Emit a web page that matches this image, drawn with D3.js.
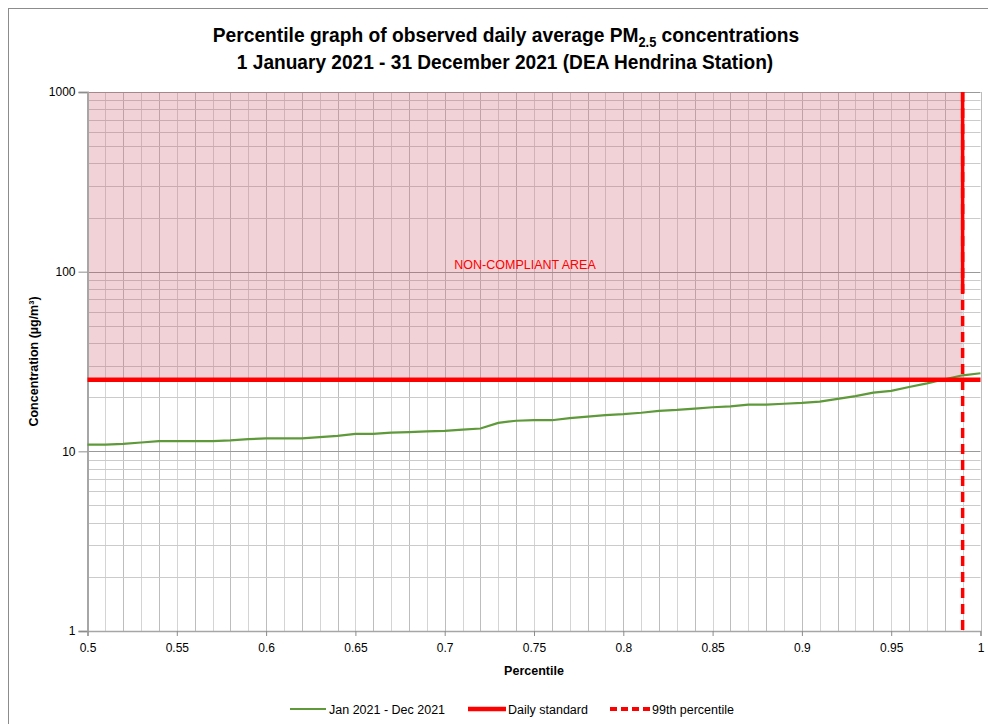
<!DOCTYPE html>
<html>
<head>
<meta charset="utf-8">
<script src="https://cdn.jsdelivr.net/npm/d3@7"></script>
<style>
  body { margin: 0; background: #fff; }
  svg { display: block; }
  .narrow { font-family: "Liberation Sans Narrow", "Arial Narrow", "Liberation Sans", sans-serif; }
</style>
</head>
<body>
<div id="chart"></div>
<script>
// Percentile grid (x) and observed concentrations (µg/m³)
const percentiles = [
  0.50, 0.51, 0.52, 0.53, 0.54, 0.55, 0.56, 0.57, 0.58, 0.59,
  0.60, 0.61, 0.62, 0.63, 0.64, 0.65, 0.66, 0.67, 0.68, 0.69,
  0.70, 0.71, 0.72, 0.73, 0.74, 0.75, 0.76, 0.77, 0.78, 0.79,
  0.80, 0.81, 0.82, 0.83, 0.84, 0.85, 0.86, 0.87, 0.88, 0.89,
  0.90, 0.91, 0.92, 0.93, 0.94, 0.95, 0.96, 0.97, 0.98, 0.99, 1.00
]
const concentrations = [
  10.9, 10.9, 11.0, 11.2, 11.4, 11.4, 11.4, 11.4, 11.5, 11.7,
  11.8, 11.8, 11.8, 12.0, 12.2, 12.5, 12.5, 12.7, 12.8, 12.9,
  13.0, 13.2, 13.4, 14.4, 14.8, 14.9, 14.9, 15.3, 15.6, 15.9,
  16.1, 16.4, 16.8, 17.0, 17.3, 17.6, 17.8, 18.2, 18.2, 18.4,
  18.6, 18.9, 19.6, 20.3, 21.2, 21.7, 22.8, 23.9, 25.2, 26.5, 27.2
]
const dailyStandard = 25
const percentile99 = 0.99
const dashTopValue = 76 // solid overlap of the 99th percentile marker ends here
const xTicks = [0.5, 0.55, 0.6, 0.65, 0.7, 0.75, 0.8, 0.85, 0.9, 0.95, 1]
const yTicks = [1, 10, 100, 1000]
const legendLabels = ['Jan 2021 - Dec 2021', 'Daily standard', '99th percentile']

const width = 988
const height = 724
const margin = { top: 92, right: 7.5, bottom: 93, left: 87.5 }

const svg = d3.select('#chart')
  .append('svg')
  .attr('width', width)
  .attr('height', height)
  .attr('class', 'narrow')

// Outer frame
svg.append('rect')
  .attr('x', 8.5).attr('y', 8.5)
  .attr('width', width).attr('height', height)
  .attr('fill', 'none')
  .attr('stroke', '#8c8c8c')

const x = d3.scaleLinear().domain([0.5, 1]).range([margin.left, width - margin.right])
const y = d3.scaleLog().domain([1, 1000]).range([height - margin.bottom, margin.top])

// Grid
const yMinor = []
for (const base of [1, 10, 100]) {
  for (let k = 2; k <= 9; k++) yMinor.push(base * k)
}
const xMinor = percentiles

const grid = svg.append('g')
grid.selectAll('line.vx')
  .data(xMinor)
  .join('line')
  .attr('x1', d => Math.round(x(d)) + 0.5)
  .attr('x2', d => Math.round(x(d)) + 0.5)
  .attr('y1', y(1000))
  .attr('y2', y(1))
  .attr('stroke', (d, i) => i % 2 ? '#d4d4d4' : '#bdbdbd')
grid.selectAll('line.hy')
  .data(yMinor)
  .join('line')
  .attr('x1', x(0.5))
  .attr('x2', x(1))
  .attr('y1', d => Math.round(y(d)) + 0.5)
  .attr('y2', d => Math.round(y(d)) + 0.5)
  .attr('stroke', '#cbcbcb')
grid.selectAll('line.hmaj')
  .data([10, 100, 1000])
  .join('line')
  .attr('x1', x(0.5))
  .attr('x2', x(1))
  .attr('y1', d => Math.round(y(d)) + 0.5)
  .attr('y2', d => Math.round(y(d)) + 0.5)
  .attr('stroke', '#9a9a9a')

// Non-compliant area
svg.append('rect')
  .attr('x', x(0.5))
  .attr('y', y(1000))
  .attr('width', x(percentile99) - x(0.5))
  .attr('height', y(dailyStandard) - y(1000) - 2)
  .attr('fill', 'rgb(200, 80, 95)')
  .attr('fill-opacity', 0.26)

svg.append('text')
  .attr('x', x(0.745))
  .attr('y', y(100) - 3)
  .attr('text-anchor', 'middle')
  .attr('fill', '#ff0000')
  .attr('font-size', 12.5)
  .text('NON-COMPLIANT AREA')

// Axes
const yAxis = svg.append('g')
  .attr('transform', `translate(${x(0.5)},0)`)
  .call(d3.axisLeft(y).tickValues(yTicks).tickFormat(d3.format('d')).tickSize(9).tickPadding(3))
yAxis.select('.domain').attr('stroke', '#a6a6a6').attr('stroke-width', 2)
yAxis.selectAll('.tick line').attr('stroke', '#8c8c8c')
yAxis.selectAll('text').attr('font-size', 12).attr('fill', '#000').attr('font-family', null)

const xAxis = svg.append('g')
  .attr('transform', `translate(0,${y(1)})`)
  .call(d3.axisBottom(x).tickValues(xTicks).tickFormat(d => String(d)).tickSize(5).tickPadding(7))
xAxis.select('.domain').attr('stroke', '#a6a6a6').attr('stroke-width', 1.5)
xAxis.selectAll('.tick line').attr('stroke', '#8c8c8c')
xAxis.selectAll('text').attr('font-size', 12).attr('fill', '#000').attr('font-family', null)

// Series line
const line = d3.line()
  .x((d, i) => x(percentiles[i]))
  .y(d => y(d))
svg.append('path')
  .datum(concentrations)
  .attr('d', line)
  .attr('fill', 'none')
  .attr('stroke', '#5f9a3a')
  .attr('stroke-width', 2.2)

// Daily standard
svg.append('line')
  .attr('x1', x(0.5)).attr('x2', x(1))
  .attr('y1', y(dailyStandard)).attr('y2', y(dailyStandard))
  .attr('stroke', '#ff0000')
  .attr('stroke-width', 4.5)

// 99th percentile
svg.append('line')
  .attr('x1', x(percentile99)).attr('x2', x(percentile99))
  .attr('y1', y(1000)).attr('y2', y(1))
  .attr('stroke', '#ff0000')
  .attr('stroke-width', 3.5)
  .attr('stroke-dasharray', '10,6')
svg.append('line')
  .attr('x1', x(percentile99)).attr('x2', x(percentile99))
  .attr('y1', y(1000)).attr('y2', y(dashTopValue))
  .attr('stroke', '#ff0000')
  .attr('stroke-width', 3.5)

// Titles (condensed to mimic a narrow face)
const t1 = svg.append('g').attr('transform', 'translate(506,42) scale(0.915,1)')
const title = t1.append('text')
  .attr('text-anchor', 'middle')
  .attr('font-weight', 'bold')
  .attr('font-size', 21)
title.append('tspan')
  .attr('x', 0).attr('y', 0)
  .text('Percentile graph of observed daily average PM')
title.append('tspan')
  .attr('font-size', 14)
  .attr('dy', 5)
  .text('2.5')
title.append('tspan')
  .attr('dy', -5)
  .text(' concentrations')
svg.append('g').attr('transform', 'translate(505,69) scale(0.91,1)')
  .append('text')
  .attr('text-anchor', 'middle')
  .attr('font-weight', 'bold')
  .attr('font-size', 21)
  .text('1 January 2021 - 31 December 2021 (DEA Hendrina Station)')

svg.append('text')
  .attr('x', x(0.75))
  .attr('y', 675)
  .attr('text-anchor', 'middle')
  .attr('font-weight', 'bold')
  .attr('font-size', 12.5)
  .text('Percentile')

svg.append('text')
  .attr('transform', `translate(38,${(y(1) + y(1000)) / 2}) rotate(-90)`)
  .attr('text-anchor', 'middle')
  .attr('font-weight', 'bold')
  .attr('font-size', 12.5)
  .text('Concentration (µg/m³)')

// Legend
const legendY = 709
const legend = svg.append('g')
const items = [
  { x1: 290, x2: 326, color: '#5f9a3a', w: 2.2, dash: null, tx: 329 },
  { x1: 468, x2: 506, color: '#ff0000', w: 4.5, dash: null, tx: 508 },
  { x1: 610, x2: 652, color: '#ff0000', w: 4, dash: '7,4', tx: 652 }
]
items.forEach((it, i) => {
  legend.append('line')
    .attr('x1', it.x1).attr('x2', it.x2)
    .attr('y1', legendY).attr('y2', legendY)
    .attr('stroke', it.color)
    .attr('stroke-width', it.w)
    .attr('stroke-dasharray', it.dash)
  legend.append('text')
    .attr('x', it.tx)
    .attr('y', legendY + 4.5)
    .attr('font-size', 12.5)
    .text(legendLabels[i])
})
</script>
</body>
</html>
